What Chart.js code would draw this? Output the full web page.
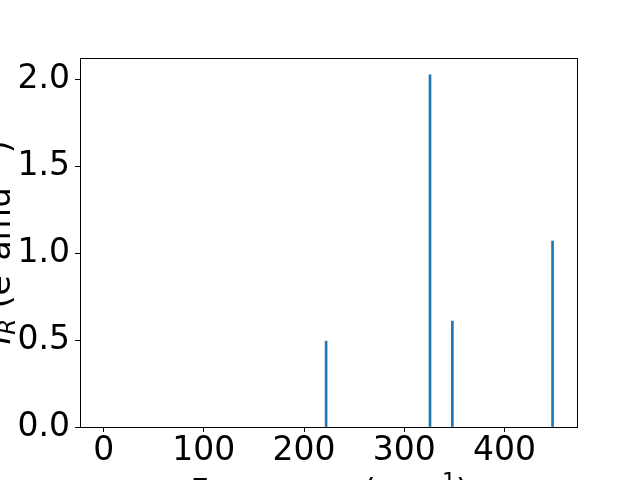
<!DOCTYPE html>
<html>
<head>
<meta charset="utf-8">
<script src="https://cdn.jsdelivr.net/npm/chart.js@4.4.1/dist/chart.umd.min.js"></script>
<style>
  html, body { margin: 0; padding: 0; background: #fff; }
  #wrap { width: 640px; height: 480px; }
</style>
</head>
<body>
<div id="wrap"><canvas id="myChart" width="640" height="480"></canvas></div>
<script>
// mode frequencies (cm^-1) and IR intensities
var freqs = [222, 325.7, 348, 448];
var intensities = [0.494, 2.028, 0.610, 1.071];
// tick values along the axes
var xTicks = [0, 100, 200, 300, 400];
var yTicks = [0.0, 0.5, 1.0, 1.5, 2.0];

var FONT = "DejaVu Sans";

// draw a line of text made of pieces with different sizes / offsets
function drawRuns(ctx, runs, cx, base) {
  var total = 0;
  runs.forEach(function (r) {
    ctx.font = (r.italic ? "italic " : "") + r.size + "px '" + FONT + "'";
    r.w = ctx.measureText(r.t).width;
    total += r.w;
  });
  var x = cx - total / 2;
  ctx.textAlign = "left";
  ctx.textBaseline = "alphabetic";
  runs.forEach(function (r) {
    ctx.font = (r.italic ? "italic " : "") + r.size + "px '" + FONT + "'";
    ctx.fillText(r.t, x, base + (r.dy || 0));
    x += r.w;
  });
}

var frame = {
  id: "frame",
  afterDraw: function (chart) {
    var ctx = chart.ctx, a = chart.chartArea;
    ctx.save();
    ctx.strokeStyle = "#000";
    ctx.lineWidth = 1;
    ctx.strokeRect(a.left + 0.5, a.top + 0.5, a.right - a.left, a.bottom - a.top);
    ctx.fillStyle = "#000";

    // x axis title
    drawRuns(ctx, [
      { t: "Frequency (cm", size: 31.5 },
      { t: "\u22121", size: 22, dy: -13 },
      { t: ")", size: 31.5 }
    ], (a.left + a.right) / 2 + 1, 501);

    // y axis title, rotated
    ctx.translate(10, (a.top + a.bottom) / 2);
    ctx.rotate(-Math.PI / 2);
    drawRuns(ctx, [
      { t: "I", size: 33, italic: true },
      { t: "R", size: 23, dy: 5, italic: true },
      { t: " (e", size: 33 },
      { t: "2", size: 23, dy: -14 },
      { t: "amu", size: 33 },
      { t: "\u22121", size: 23, dy: -14 },
      { t: ")", size: 33 }
    ], 0, 0);
    ctx.restore();
  }
};

var ctx = document.getElementById("myChart");
var myChart = new Chart(ctx, {
  type: "bar",
  data: {
    datasets: [{
      data: freqs.map(function (f, i) { return { x: f, y: intensities[i] }; }),
      backgroundColor: "#1f77b4",
      borderWidth: 0,
      barThickness: 2
    }]
  },
  options: {
    responsive: false,
    animation: false,
    layout: { padding: { left: 0, top: 58, right: 63, bottom: 0 } },
    plugins: { legend: { display: false }, tooltip: { enabled: false } },
    scales: {
      x: {
        type: "linear",
        offset: false,
        min: -23.6,
        max: 472.4,
        afterBuildTicks: function (s) { s.ticks = xTicks.map(function (v) { return { value: v }; }); },
        afterFit: function (s) { s.height = 53; },
        border: { display: false },
        grid: { offset: false, drawOnChartArea: false, drawTicks: true, tickLength: 5, color: "#000" },
        ticks: {
          color: "#000",
          padding: 3,
          maxRotation: 0,
          font: { family: FONT, size: 33, lineHeight: 1.0 },
          callback: function (v) { return String(v); }
        }
      },
      y: {
        min: 0,
        max: 2.125,
        afterBuildTicks: function (s) { s.ticks = yTicks.map(function (v) { return { value: v }; }); },
        afterFit: function (s) { s.width = 80; },
        border: { display: false },
        grid: { drawOnChartArea: false, drawTicks: true, tickLength: 5, color: "#000" },
        ticks: {
          color: "#000",
          padding: 5,
          font: { family: FONT, size: 33, lineHeight: 1.0 },
          callback: function (v) { return v.toFixed(1); }
        }
      }
    }
  },
  plugins: [frame]
});
</script>
</body>
</html>
